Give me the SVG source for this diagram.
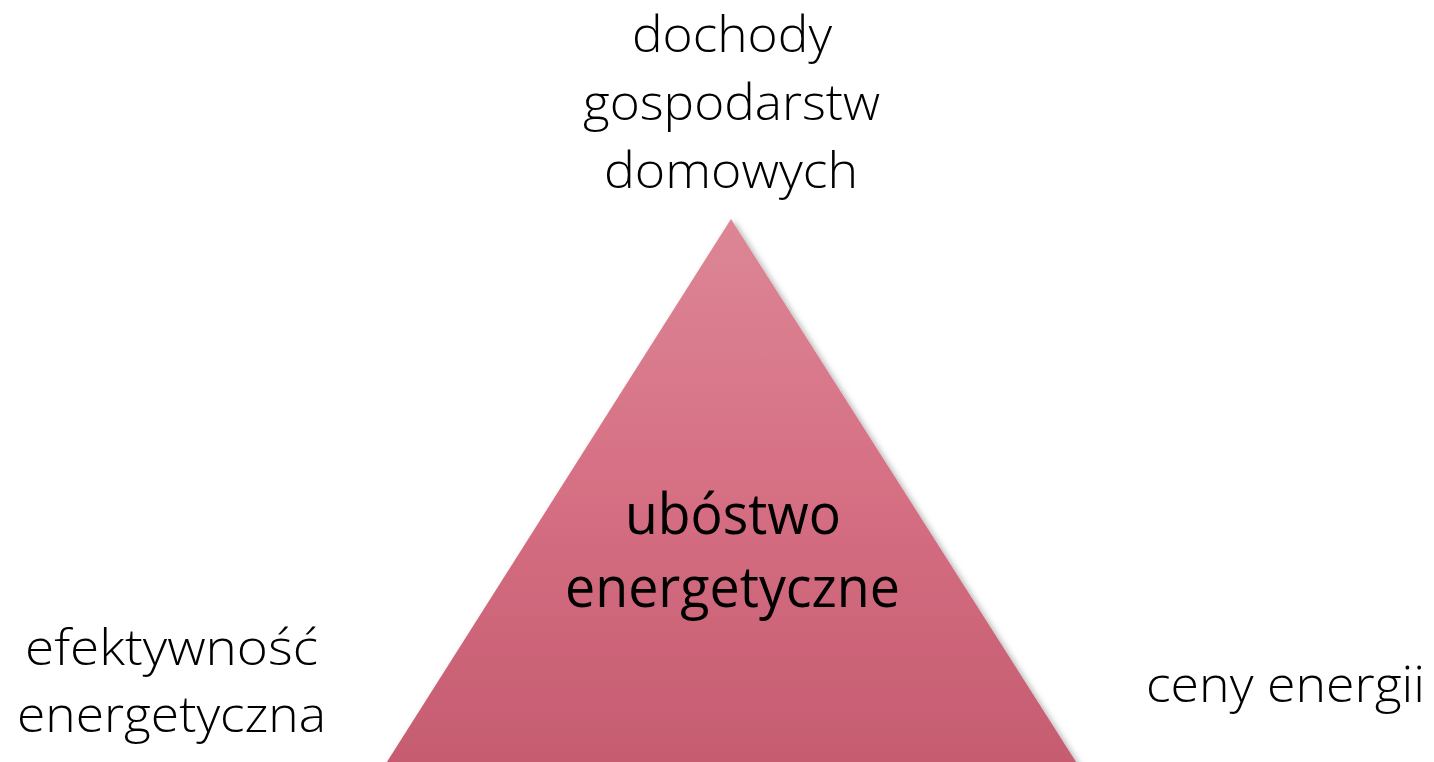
<svg xmlns="http://www.w3.org/2000/svg" width="1434" height="762" viewBox="0 0 1434 762">
<style>
.lbl{font-family:"Open Sans","Liberation Sans",sans-serif;font-weight:300;font-size:49px;fill:#000;text-anchor:middle}
.ctr{font-family:"Open Sans","Liberation Sans",sans-serif;font-weight:400;font-size:57px;fill:#000;text-anchor:middle}
</style>
<defs>
<linearGradient id="tg" x1="0" y1="0" x2="0" y2="1">
<stop offset="0" stop-color="#dc8696"/>
<stop offset="0.5" stop-color="#d66f83"/>
<stop offset="1" stop-color="#c55c70"/>
</linearGradient>
<filter id="sh" x="-10%" y="-10%" width="120%" height="120%">
<feDropShadow dx="3" dy="2" stdDeviation="3" flood-color="#000" flood-opacity="0.3"/>
</filter>
</defs>
<rect width="1434" height="762" fill="#fff"/>
<g id="triangle">
<polygon points="731,219 1078,765 385,765" fill="url(#tg)" filter="url(#sh)"/>
<text class="ctr" x="733" y="534" textLength="216" lengthAdjust="spacingAndGlyphs">ubóstwo</text>
<text class="ctr" x="732.5" y="607" textLength="335" lengthAdjust="spacingAndGlyphs">energetyczne</text>
</g>
<g id="top-label">
<text class="lbl" x="732" y="52" textLength="200" lengthAdjust="spacingAndGlyphs">dochody</text>
<text class="lbl" x="731.5" y="120" textLength="297" lengthAdjust="spacingAndGlyphs">gospodarstw</text>
<text class="lbl" x="731" y="188" textLength="254" lengthAdjust="spacingAndGlyphs">domowych</text>
</g>
<g id="left-label">
<text class="lbl" x="171.5" y="665" textLength="293" lengthAdjust="spacingAndGlyphs">efektywność</text>
<text class="lbl" x="171.5" y="732" textLength="309" lengthAdjust="spacingAndGlyphs">energetyczna</text>
</g>
<g id="right-label">
<text class="lbl" x="1285.5" y="702" textLength="279" lengthAdjust="spacingAndGlyphs">ceny energii</text>
</g>
<g id="connectors"></g>
</svg>
